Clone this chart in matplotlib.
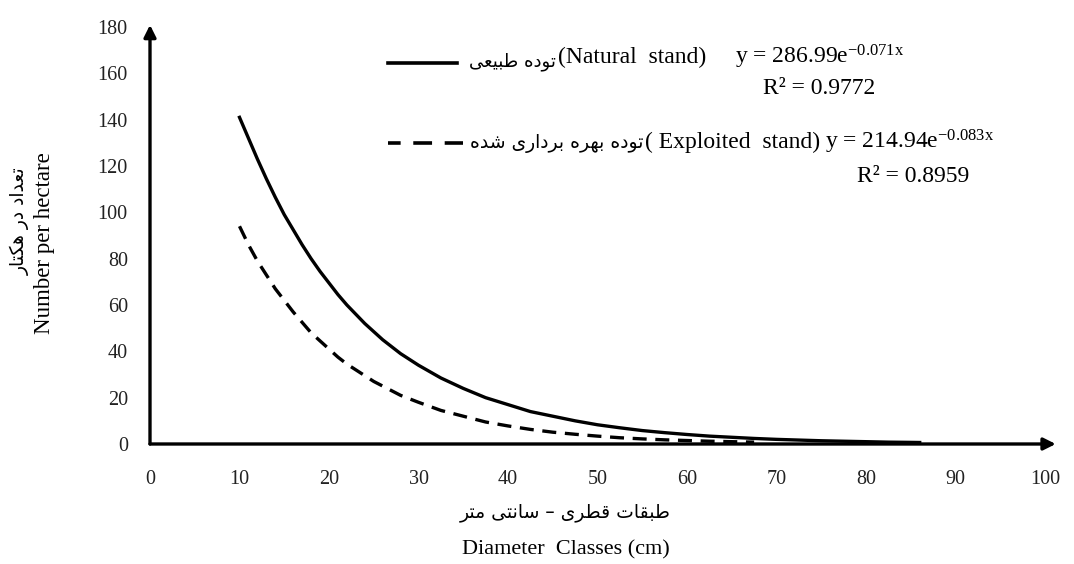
import matplotlib
matplotlib.use('Agg')
import matplotlib.pyplot as plt
from matplotlib.lines import Line2D

plt.rcParams['font.family'] = ['Liberation Serif', 'DejaVu Sans']
plt.rcParams['mathtext.fontset'] = 'custom'
plt.rcParams['mathtext.rm'] = 'Liberation Serif'
plt.rcParams['mathtext.it'] = 'Liberation Serif'
plt.rcParams['mathtext.default'] = 'rm'

# values
diam_natural = [10, 11, 12, 13, 14, 15, 16, 17, 18, 19, 20, 21, 22, 23, 24, 25, 26, 27, 28, 29, 30,
                32.5, 35, 37.5, 40, 42.5, 45, 47.5, 50, 52.5, 55, 57.5, 60, 62.5, 65, 67.5,
                70, 72.5, 75, 77.5, 80, 82.5, 85, 86]
n_natural = [141, 132, 123, 114.5, 106.5, 99, 92.5, 86, 80, 74.5, 69.5, 64.5, 60, 56, 52, 48.5,
             45, 42, 39, 36.5, 34, 28.5, 24, 20, 17, 14, 12, 10, 8.3, 7, 5.8, 4.9, 4.1, 3.4,
             2.9, 2.4, 2.0, 1.7, 1.4, 1.2, 1.0, 0.8, 0.7, 0.65]

diam_exploited = [10, 11, 12, 13, 14, 15, 16, 17, 18, 19, 20, 21, 22, 23, 24, 25, 26, 27, 28, 29, 30,
                  32.5, 35, 37.5, 40, 42.5, 45, 47.5, 50, 52.5, 55, 57.5, 60, 62.5, 65, 67.5]
n_exploited = [94, 86, 79, 73, 67, 62, 57, 52.5, 48, 44.5, 41, 37.5, 34.5, 32, 29.5, 27, 25, 23,
               21, 19.5, 18, 14.5, 12, 9.5, 7.8, 6.3, 5.1, 4.2, 3.4, 2.7, 2.2, 1.8, 1.5, 1.2,
               1.0, 0.8]

x_ticks = list(range(0, 101, 10))
y_ticks = list(range(0, 181, 20))

# Persian labels
fa_natural = 'توده طبیعی'
fa_exploited = 'توده بهره برداری شده'
fa_ylabel = 'تعداد در هکتار'
fa_xlabel = 'طبقات قطری – سانتی متر'

# isolated, final, initial, medial presentation forms
FORMS = {
    'ا': ('\uFE8D', '\uFE8E', None, None),
    'د': ('\uFEA9', '\uFEAA', None, None),
    'ر': ('\uFEAD', '\uFEAE', None, None),
    'و': ('\uFEED', '\uFEEE', None, None),
    'ب': ('\uFE8F', '\uFE90', '\uFE91', '\uFE92'),
    'ت': ('\uFE95', '\uFE96', '\uFE97', '\uFE98'),
    'س': ('\uFEB1', '\uFEB2', '\uFEB3', '\uFEB4'),
    'ش': ('\uFEB5', '\uFEB6', '\uFEB7', '\uFEB8'),
    'ط': ('\uFEC1', '\uFEC2', '\uFEC3', '\uFEC4'),
    'ع': ('\uFEC9', '\uFECA', '\uFECB', '\uFECC'),
    'ق': ('\uFED5', '\uFED6', '\uFED7', '\uFED8'),
    'م': ('\uFEE1', '\uFEE2', '\uFEE3', '\uFEE4'),
    'ن': ('\uFEE5', '\uFEE6', '\uFEE7', '\uFEE8'),
    'ه': ('\uFEE9', '\uFEEA', '\uFEEB', '\uFEEC'),
    'ی': ('\uFBFC', '\uFBFD', '\uFBFE', '\uFBFF'),
    'ک': ('\uFB8E', '\uFB8F', '\uFB90', '\uFB91'),
}


def shape(text):
    # join letters and put them in visual (right-to-left) order
    out = []
    for i, c in enumerate(text):
        if c not in FORMS:
            out.append(c)
            continue
        prev = text[i - 1] if i > 0 else ''
        nxt = text[i + 1] if i + 1 < len(text) else ''
        jp = prev in FORMS and FORMS[prev][2] is not None
        jn = FORMS[c][2] is not None and nxt in FORMS
        if jp and jn:
            out.append(FORMS[c][3])
        elif jp:
            out.append(FORMS[c][1])
        elif jn:
            out.append(FORMS[c][2])
        else:
            out.append(FORMS[c][0])
    return ''.join(reversed(out))


W, H = 1074, 564
fig = plt.figure(figsize=(W / 100, H / 100), dpi=100)
ax = fig.add_axes([150 / W, 1 - 444 / H, 895 / W, 417 / H])

ax.plot(diam_natural, n_natural, color='black', lw=2.4)
ax.plot(diam_exploited, n_exploited, color='black', lw=2.4, dashes=(4.2, 2.6))

ax.set_xlim(0, 100)
ax.set_ylim(0, 180)
ax.set_xticks(x_ticks)
ax.set_yticks(y_ticks)
ax.tick_params(axis='both', length=0, labelsize=14.5, labelcolor='#222222')
ax.tick_params(axis='x', pad=19)
ax.tick_params(axis='y', pad=16)
for s in ax.spines.values():
    s.set_visible(False)

arrow = dict(arrowstyle='-|>', lw=2.4, color='black', mutation_scale=18, shrinkA=0, shrinkB=0)
ax.annotate('', xy=(1.012, 0), xytext=(0, 0), xycoords='axes fraction', arrowprops=arrow)
ax.annotate('', xy=(0, 1.005), xytext=(0, 0), xycoords='axes fraction', arrowprops=arrow)


def fx(px):
    return px / W


def fy(py):
    return 1 - py / H


# legend-like annotations
fig.add_artist(Line2D([fx(388), fx(457)], [fy(63), fy(63)], color='black', lw=2.6))
fig.add_artist(Line2D([fx(388), fx(463)], [fy(143), fy(143)], color='black', lw=2.6,
                      linestyle=(1.7, (5.2, 3.5))))

fig.text(fx(556), fy(62), shape(fa_natural), family='DejaVu Sans', fontsize=13, ha='right', va='center')
fig.text(fx(558), fy(57), '(Natural  stand)', fontsize=17, ha='left', va='center')
fig.text(fx(735), fy(57), r'y = 286.99e$^{-0.071x}$', fontsize=17, ha='left', va='center')
fig.text(fx(763), fy(88), 'R² = 0.9772', fontsize=17, ha='left', va='center')

fig.text(fx(643), fy(144), shape(fa_exploited), family='DejaVu Sans', fontsize=13.5, ha='right', va='center')
fig.text(fx(645), fy(142), '( Exploited  stand)', fontsize=17, ha='left', va='center')
fig.text(fx(825), fy(142), r'y = 214.94e$^{-0.083x}$', fontsize=17, ha='left', va='center')
fig.text(fx(857), fy(176), 'R² = 0.8959', fontsize=17, ha='left', va='center')

# axis titles
fig.text(fx(20), fy(221), shape(fa_ylabel), family='DejaVu Sans', fontsize=13.5,
         rotation=90, ha='center', va='center')
fig.text(fx(45), fy(243), 'Number per hectare', fontsize=16.5, rotation=90, ha='center', va='center')
fig.text(fx(565), fy(513), shape(fa_xlabel), family='DejaVu Sans', fontsize=13.5, ha='center', va='center')
fig.text(fx(566), fy(550), 'Diameter  Classes (cm)', fontsize=16, ha='center', va='center')

fig.savefig('out.png', dpi=100)
